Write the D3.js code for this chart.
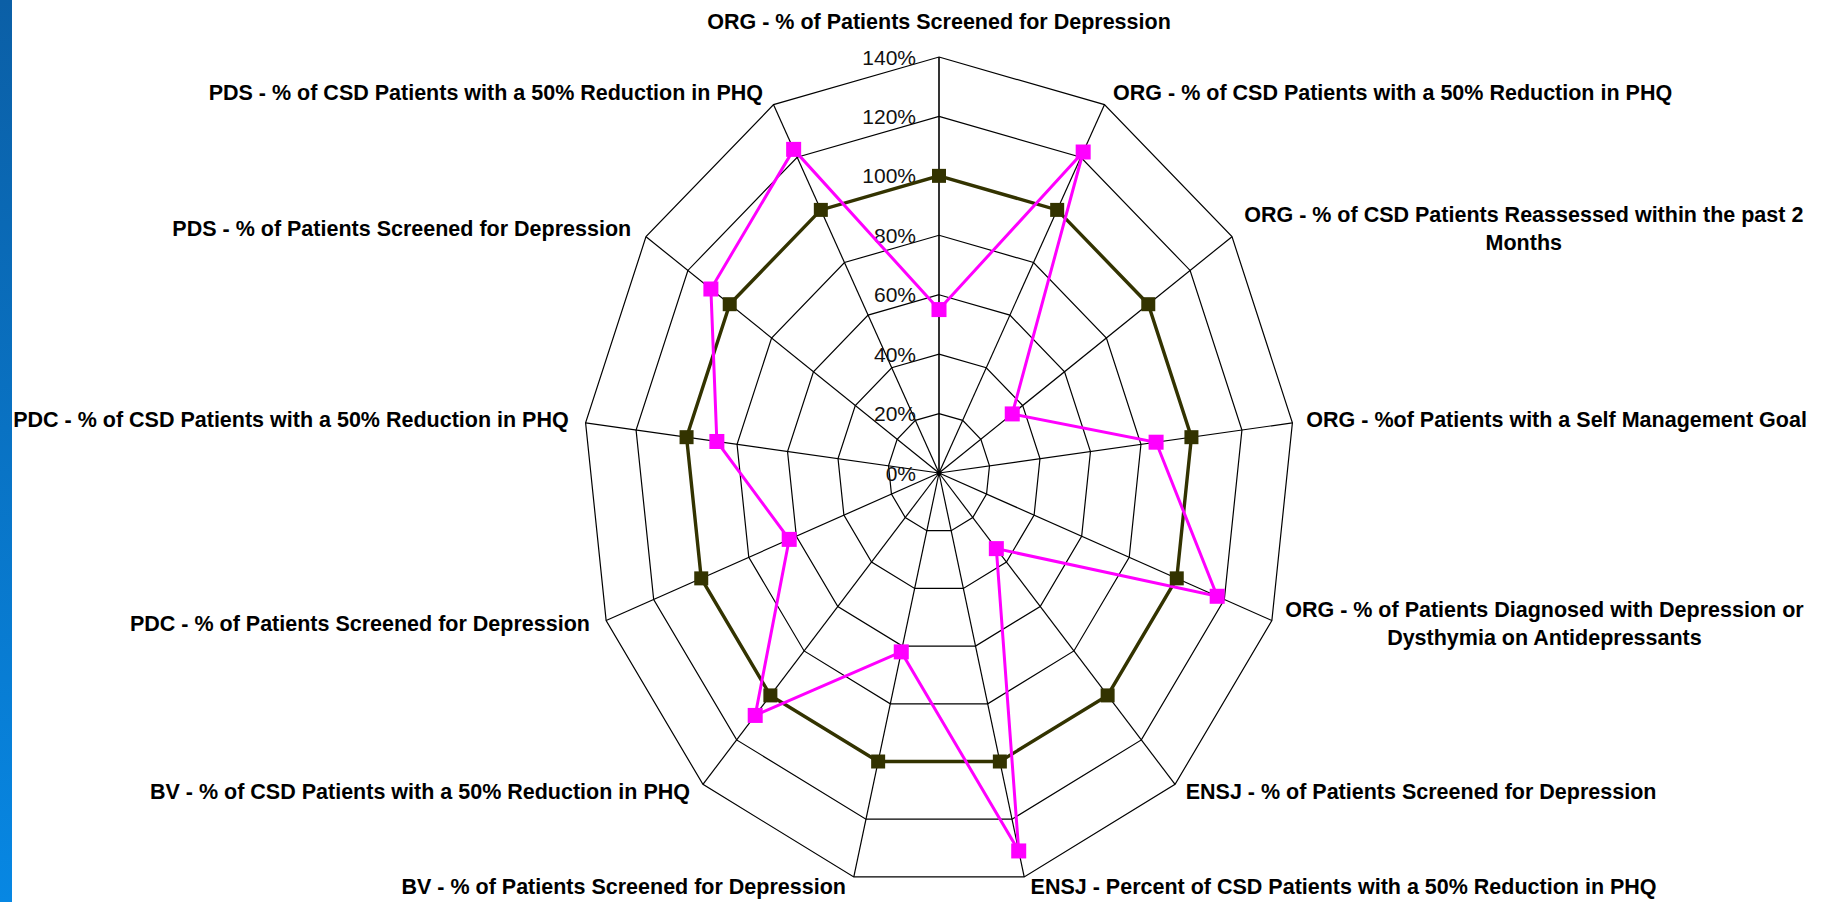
<!DOCTYPE html>
<html>
<head>
<meta charset="utf-8">
<title>Depression screening radar</title>
<script src="https://d3js.org/d3.v7.min.js"></script>
<style>
  html, body { margin: 0; padding: 0; background: #fff; }
  svg { display: block; }
  .cat-label { font-family: "Liberation Sans", Arial, sans-serif; font-weight: bold; font-size: 21.5px; fill: #000; }
  .tick-label { font-family: "Liberation Sans", Arial, sans-serif; font-size: 21px; fill: #111; }
</style>
</head>
<body>
<svg id="chart"></svg>
<script>
// categories, clockwise from the top
var categories = [
  "ORG - % of Patients Screened for Depression",
  "ORG - % of CSD Patients with a 50% Reduction in PHQ",
  "ORG - % of CSD Patients Reassessed within the past 2\nMonths",
  "ORG - %of Patients with a Self Management Goal",
  "ORG - % of Patients Diagnosed with Depression or\nDysthymia on Antidepressants",
  "ENSJ - % of Patients Screened for Depression",
  "ENSJ - Percent of CSD Patients with a 50% Reduction in PHQ",
  "BV - % of Patients Screened for Depression",
  "BV - % of CSD Patients with a 50% Reduction in PHQ",
  "PDC - % of Patients Screened for Depression",
  "PDC - % of CSD Patients with a 50% Reduction in PHQ",
  "PDS - % of Patients Screened for Depression",
  "PDS - % of CSD Patients with a 50% Reduction in PHQ"
];
var targetValues = [100, 100, 100, 100, 100, 100, 100, 100, 100, 100, 100, 100, 100];
var actualValues = [55, 122, 35, 86, 117, 34, 131, 62, 109, 63, 88, 109, 123];
var tickValues = [0, 20, 40, 60, 80, 100, 120, 140];
var tickLabels = ["0%", "20%", "40%", "60%", "80%", "100%", "120%", "140%"];

var svgWidth = 1826, svgHeight = 902;
var cx = 939, cy = 473;

var svg = d3.select("#chart")
    .attr("width", svgWidth)
    .attr("height", svgHeight);

// blue strip on the left edge
var grad = svg.append("defs").append("linearGradient")
    .attr("id", "edge").attr("x1", 0).attr("y1", 0).attr("x2", 0).attr("y2", 1);
grad.append("stop").attr("offset", "0%").attr("stop-color", "#0b5fa6");
grad.append("stop").attr("offset", "100%").attr("stop-color", "#0787e3");
svg.append("rect").attr("x", 0).attr("y", 0).attr("width", 12).attr("height", svgHeight)
    .attr("fill", "url(#edge)");

var chart = svg.append("g").attr("transform", "translate(" + cx + "," + cy + ")");

// the plot is taller than it is wide, so two radial scales
var rX = d3.scaleLinear().domain([0, 140]).range([0, 356]);
var rY = d3.scaleLinear().domain([0, 140]).range([0, 416]);
var angle = d3.scaleLinear().domain([0, categories.length]).range([0, 2 * Math.PI]);

function px(i, v) { return rX(v) * Math.sin(angle(i)); }
function py(i, v) { return -rY(v) * Math.cos(angle(i)); }

var idx = d3.range(categories.length);

// rings
chart.append("g").attr("class", "rings")
  .selectAll("path")
  .data(tickValues.filter(function(t) { return t > 0; }))
  .enter().append("path")
    .attr("d", function(t) {
        return d3.line().curve(d3.curveLinearClosed)
            .x(function(i) { return px(i, t); })
            .y(function(i) { return py(i, t); })(idx);
    })
    .attr("fill", "none")
    .attr("stroke", "#000")
    .attr("stroke-width", 1.2);

// spokes
chart.append("g").attr("class", "spokes")
  .selectAll("line")
  .data(idx)
  .enter().append("line")
    .attr("x1", 0).attr("y1", 0)
    .attr("x2", function(i) { return px(i, 140); })
    .attr("y2", function(i) { return py(i, 140); })
    .attr("stroke", "#000")
    .attr("stroke-width", function(i) { return i === 0 ? 1.6 : 1.2; });

chart.append("circle").attr("r", 2.5).attr("fill", "#000");

// value axis labels, left of the top spoke
chart.append("g").selectAll("text")
  .data(tickValues)
  .enter().append("text")
    .attr("class", "tick-label")
    .attr("x", -23)
    .attr("y", function(t) { return py(0, t); })
    .attr("dy", "0.36em")
    .attr("text-anchor", "end")
    .text(function(t, k) { return tickLabels[k]; });

// series
var series = [
  { values: targetValues, color: "#333300", width: 3.4, size: 14 },
  { values: actualValues, color: "#ff00ff", width: 3, size: 15 }
];

series.forEach(function(s) {
  var line = d3.line().curve(d3.curveLinearClosed)
      .x(function(i) { return px(i, s.values[i]); })
      .y(function(i) { return py(i, s.values[i]); });
  chart.append("path")
      .attr("d", line(idx))
      .attr("fill", "none")
      .attr("stroke", s.color)
      .attr("stroke-width", s.width);
});

series.forEach(function(s) {
  chart.append("g").selectAll("rect")
    .data(idx)
    .enter().append("rect")
      .attr("x", function(i) { return px(i, s.values[i]) - s.size / 2; })
      .attr("y", function(i) { return py(i, s.values[i]) - s.size / 2; })
      .attr("width", s.size)
      .attr("height", s.size)
      .attr("fill", s.color);
});

// category labels around the outer ring
var labels = chart.append("g").selectAll("text")
  .data(idx)
  .enter().append("text")
    .attr("class", "cat-label");

labels.each(function(i) {
  var t = d3.select(this);
  var a = angle(i);
  var s = Math.sin(a), c = Math.cos(a);
  var vx = px(i, 140), vy = py(i, 140);
  var lines = categories[i].split("\n");
  var lineH = 28;
  var spans = lines.map(function(l) {
    return t.append("tspan").text(l);
  });
  var w = d3.max(spans, function(sp) { return sp.node().getComputedTextLength(); });
  var gap = s > 0 ? 4 + 10 * Math.abs(s) : 5 + 12 * Math.abs(s);
  var x, anchor;
  if (Math.abs(s) < 0.05) {
    x = vx; anchor = "middle";
  } else if (lines.length > 1) {
    anchor = "middle";
    x = s > 0 ? vx + gap + w / 2 : vx - gap - w / 2;
  } else {
    anchor = s > 0 ? "start" : "end";
    x = s > 0 ? vx + gap : vx - gap;
  }
  var yc = Math.abs(s) < 0.05 ? vy - 36 : vy - 12 * c - 2;
  var y0 = yc - (lines.length - 1) * lineH / 2;
  t.attr("text-anchor", anchor);
  spans.forEach(function(sp, k) {
    sp.attr("x", x).attr("y", y0 + k * lineH).attr("dy", "0.36em");
  });
});
</script>
</body>
</html>
